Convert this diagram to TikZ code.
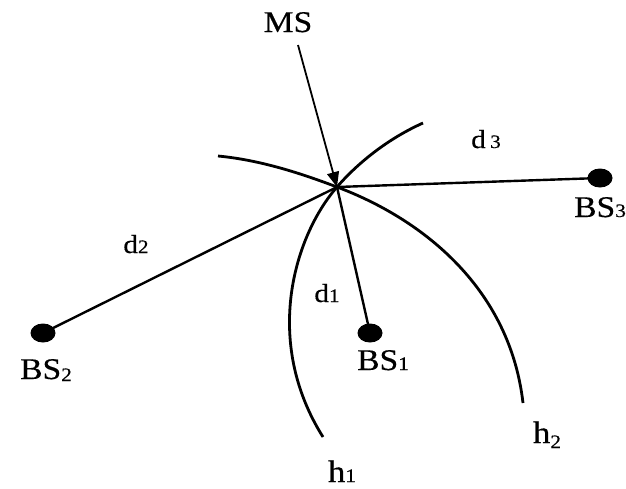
\documentclass[tikz,border=0pt]{standalone}
\usepackage{fontspec}
\setmainfont[FakeStretch=1.12,FakeBold=0.4]{Liberation Serif}
\usetikzlibrary{shapes.geometric,arrows.meta}
\newcommand\subtxt[2]{\raisebox{#1}{\fontsize{19}{19}\selectfont #2}}
\begin{document}
\begin{tikzpicture}[x=1pt,y=-1pt,
  dot/.style={ellipse,fill=black,minimum width=25pt,minimum height=19pt,inner sep=0pt},
  lbl/.style={anchor=base,inner sep=0pt,font=\fontsize{30}{30}\selectfont},
  dlbl/.style={anchor=base,inner sep=0pt,font=\fontsize{26}{26}\selectfont},
  hlbl/.style={anchor=base,inner sep=0pt,font=\fontsize{31}{31}\selectfont},
  dist/.style={line width=2.4pt},
  hyp/.style={line width=2.8pt},
]
\useasboundingbox (0,0) rectangle (626,488);
\coordinate (ms) at (337,187);
\coordinate (arrstart) at (298,45);
\node[dot] (bs1) at (370,333) {};
\node[dot] (bs2) at (43,333) {};
\node[dot] (bs3) at (600,178) {};
% hyperbola branches
\draw[hyp] (218,156) .. controls (260,160) and (300,173) .. (ms)
  .. controls (425,220) and (510,290) .. (523,403);
\draw[hyp] (423,123) .. controls (385,140) and (355,166) .. (ms)
  .. controls (295,235) and (262,340) .. (323,437);
% distances
\draw[dist] (ms) -- (bs1.center);
\draw[dist] (ms) -- (bs2.center);
\draw[dist] (ms) -- (bs3.center);
% arrow
\draw[line width=1.8pt,-{Triangle[length=15pt,width=12pt]}] (arrstart) -- (ms);
% labels
\node[lbl] (msl) at (288,32) {MS};
\node[lbl] (bs1l) at (383,370) {BS\subtxt{0pt}{1}};
\node[lbl] (bs2l) at (46,379) {BS\subtxt{-2pt}{2}};
\node[lbl] (bs3l) at (600,217) {BS\subtxt{0pt}{3}};
\node[dlbl] (d1l) at (327,302) {d\subtxt{0pt}{1}};
\node[dlbl] (d2l) at (136,253) {d\subtxt{0pt}{2}};
\node[dlbl] (d3l) at (486,148) {d\,\subtxt{0pt}{3}};
\node[hlbl] (h1l) at (342,482) {h\subtxt{0pt}{1}};
\node[hlbl] (h2l) at (547,443) {h\subtxt{-5pt}{2}};
\end{tikzpicture}
\end{document}
